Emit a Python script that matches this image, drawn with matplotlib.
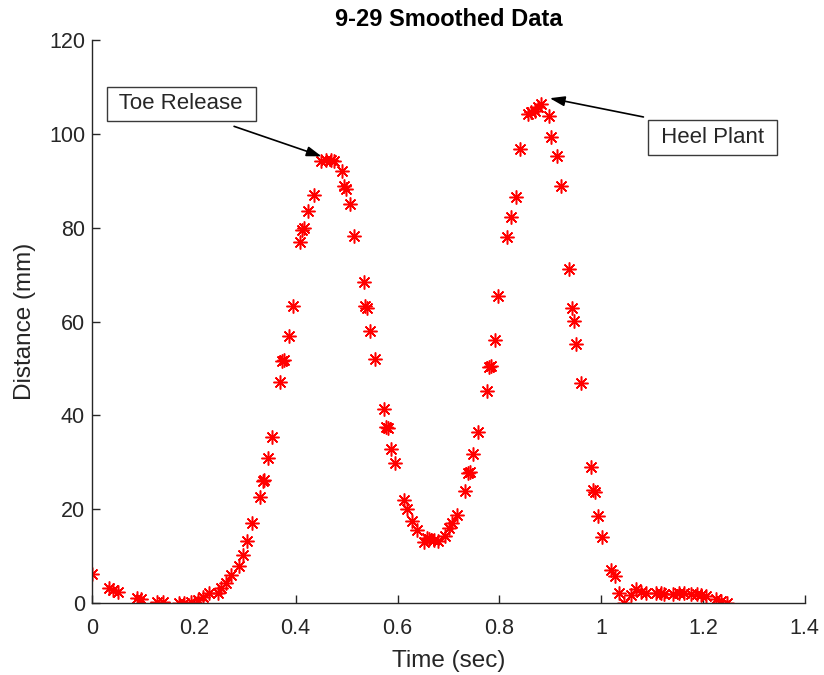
import matplotlib
matplotlib.use('Agg')
import matplotlib.pyplot as plt

# smoothed marker distance vs time for trial 9-29
time_sec = [0.000, 0.034, 0.042, 0.051, 0.089, 0.097, 0.128, 0.140, 0.170, 0.180,
            0.194, 0.209, 0.217, 0.229, 0.247, 0.253, 0.263, 0.273, 0.289, 0.296,
            0.304, 0.314, 0.330, 0.336, 0.338, 0.346, 0.354, 0.370, 0.373, 0.377,
            0.387, 0.395, 0.409, 0.413, 0.417, 0.425, 0.435, 0.449, 0.460, 0.470,
            0.476, 0.490, 0.494, 0.498, 0.506, 0.514, 0.534, 0.536, 0.540, 0.545,
            0.555, 0.573, 0.577, 0.581, 0.587, 0.595, 0.613, 0.619, 0.628, 0.638,
            0.652, 0.658, 0.662, 0.672, 0.680, 0.694, 0.702, 0.708, 0.717, 0.733,
            0.739, 0.743, 0.749, 0.759, 0.775, 0.779, 0.783, 0.791, 0.798, 0.816,
            0.822, 0.832, 0.840, 0.856, 0.862, 0.870, 0.875, 0.881, 0.897, 0.901,
            0.913, 0.921, 0.937, 0.943, 0.947, 0.951, 0.960, 0.980, 0.984, 0.988,
            0.994, 1.002, 1.020, 1.028, 1.036, 1.045, 1.059, 1.069, 1.079, 1.089,
            1.107, 1.117, 1.123, 1.142, 1.152, 1.162, 1.176, 1.188, 1.196, 1.206,
            1.225, 1.235, 1.247]
distance_mm = [6.2, 3.2, 2.8, 2.3, 1.0, 0.9, 0.3, 0.3, 0.0, 0.0,
               0.3, 0.6, 1.3, 2.1, 2.2, 3.2, 4.3, 6.0, 7.9, 10.3,
               13.2, 17.0, 22.6, 26.0, 26.2, 31.0, 35.4, 47.0, 51.5, 51.8,
               57.0, 63.2, 77.0, 79.6, 80.0, 83.5, 87.0, 94.2, 94.4, 94.4,
               94.2, 92.0, 88.8, 88.3, 85.0, 78.2, 68.5, 63.2, 62.8, 57.9,
               52.1, 41.4, 37.5, 37.3, 32.9, 29.9, 22.0, 20.0, 17.5, 15.6,
               13.0, 13.8, 13.7, 13.5, 13.2, 14.3, 16.0, 17.0, 18.8, 23.8,
               27.8, 28.0, 31.7, 36.5, 45.2, 50.2, 50.6, 56.0, 65.4, 78.0,
               82.2, 86.5, 96.7, 104.2, 104.6, 104.9, 105.7, 106.3, 103.8, 99.3,
               95.2, 88.8, 71.1, 62.8, 60.2, 55.1, 46.8, 29.0, 24.0, 23.6,
               18.5, 14.0, 7.0, 5.8, 2.1, 0.0, 1.8, 2.9, 2.4, 2.1,
               2.1, 2.1, 2.0, 1.9, 2.1, 2.1, 1.9, 1.9, 1.7, 1.5,
               0.8, 0.5, 0.0]

x_ticks = [0, 0.2, 0.4, 0.6, 0.8, 1, 1.2, 1.4]
x_tick_labels = ['0', '0.2', '0.4', '0.6', '0.8', '1', '1.2', '1.4']
y_ticks = [0, 20, 40, 60, 80, 100, 120]

# (label, text position, arrow tail, arrow tip) in data units
callouts = [
    ('Toe Release', (0.175, 106.4), (0.279, 101.6), (0.451, 95.2)),
    ('Heel Plant', (1.219, 99.2), (1.083, 103.6), (0.899, 107.6)),
]

plt.rcParams['font.family'] = ['Liberation Sans', 'DejaVu Sans']
ink = '#262626'

fig = plt.figure(figsize=(8.24, 6.75), dpi=100)
ax = fig.add_axes([0.1117, 0.1067, 0.865, 0.834])

ax.plot(time_sec, distance_mm, linestyle='none', marker=(8, 2, 0),
        markersize=10, markeredgewidth=1.1, color='red')

ax.set_xlim(0, 1.4)
ax.set_ylim(0, 120)
ax.set_xticks(x_ticks)
ax.set_xticklabels(x_tick_labels)
ax.set_yticks(y_ticks)

for side in ('top', 'right'):
    ax.spines[side].set_visible(False)
for side in ('left', 'bottom'):
    ax.spines[side].set_color(ink)
    ax.spines[side].set_linewidth(1.0)
ax.tick_params(direction='in', length=6, width=1.0, colors=ink,
               labelsize=15.5)
ax.tick_params(axis='x', pad=11)
ax.tick_params(axis='y', pad=5)

ax.set_title('9-29 Smoothed Data', fontsize=17, fontweight='bold',
             color='black', pad=10)
ax.set_xlabel('Time (sec)', fontsize=17.5, color=ink, labelpad=8)
ax.set_ylabel('Distance (mm)', fontsize=17.5, color=ink, labelpad=9)

for label, text_xy, tail_xy, tip_xy in callouts:
    ax.annotate('', xy=tip_xy, xytext=tail_xy,
                arrowprops=dict(arrowstyle='-|>,head_length=0.9,head_width=0.3',
                                color='black', lw=1.2, shrinkA=0, shrinkB=0))
    ax.text(text_xy[0], text_xy[1], ' ' + label + ' ', fontsize=16, color=ink,
            ha='center', va='center',
            bbox=dict(boxstyle='square,pad=0.3', facecolor='white',
                      edgecolor='#3a3a3a', linewidth=1.0))

fig.savefig('out.png', dpi=100)
